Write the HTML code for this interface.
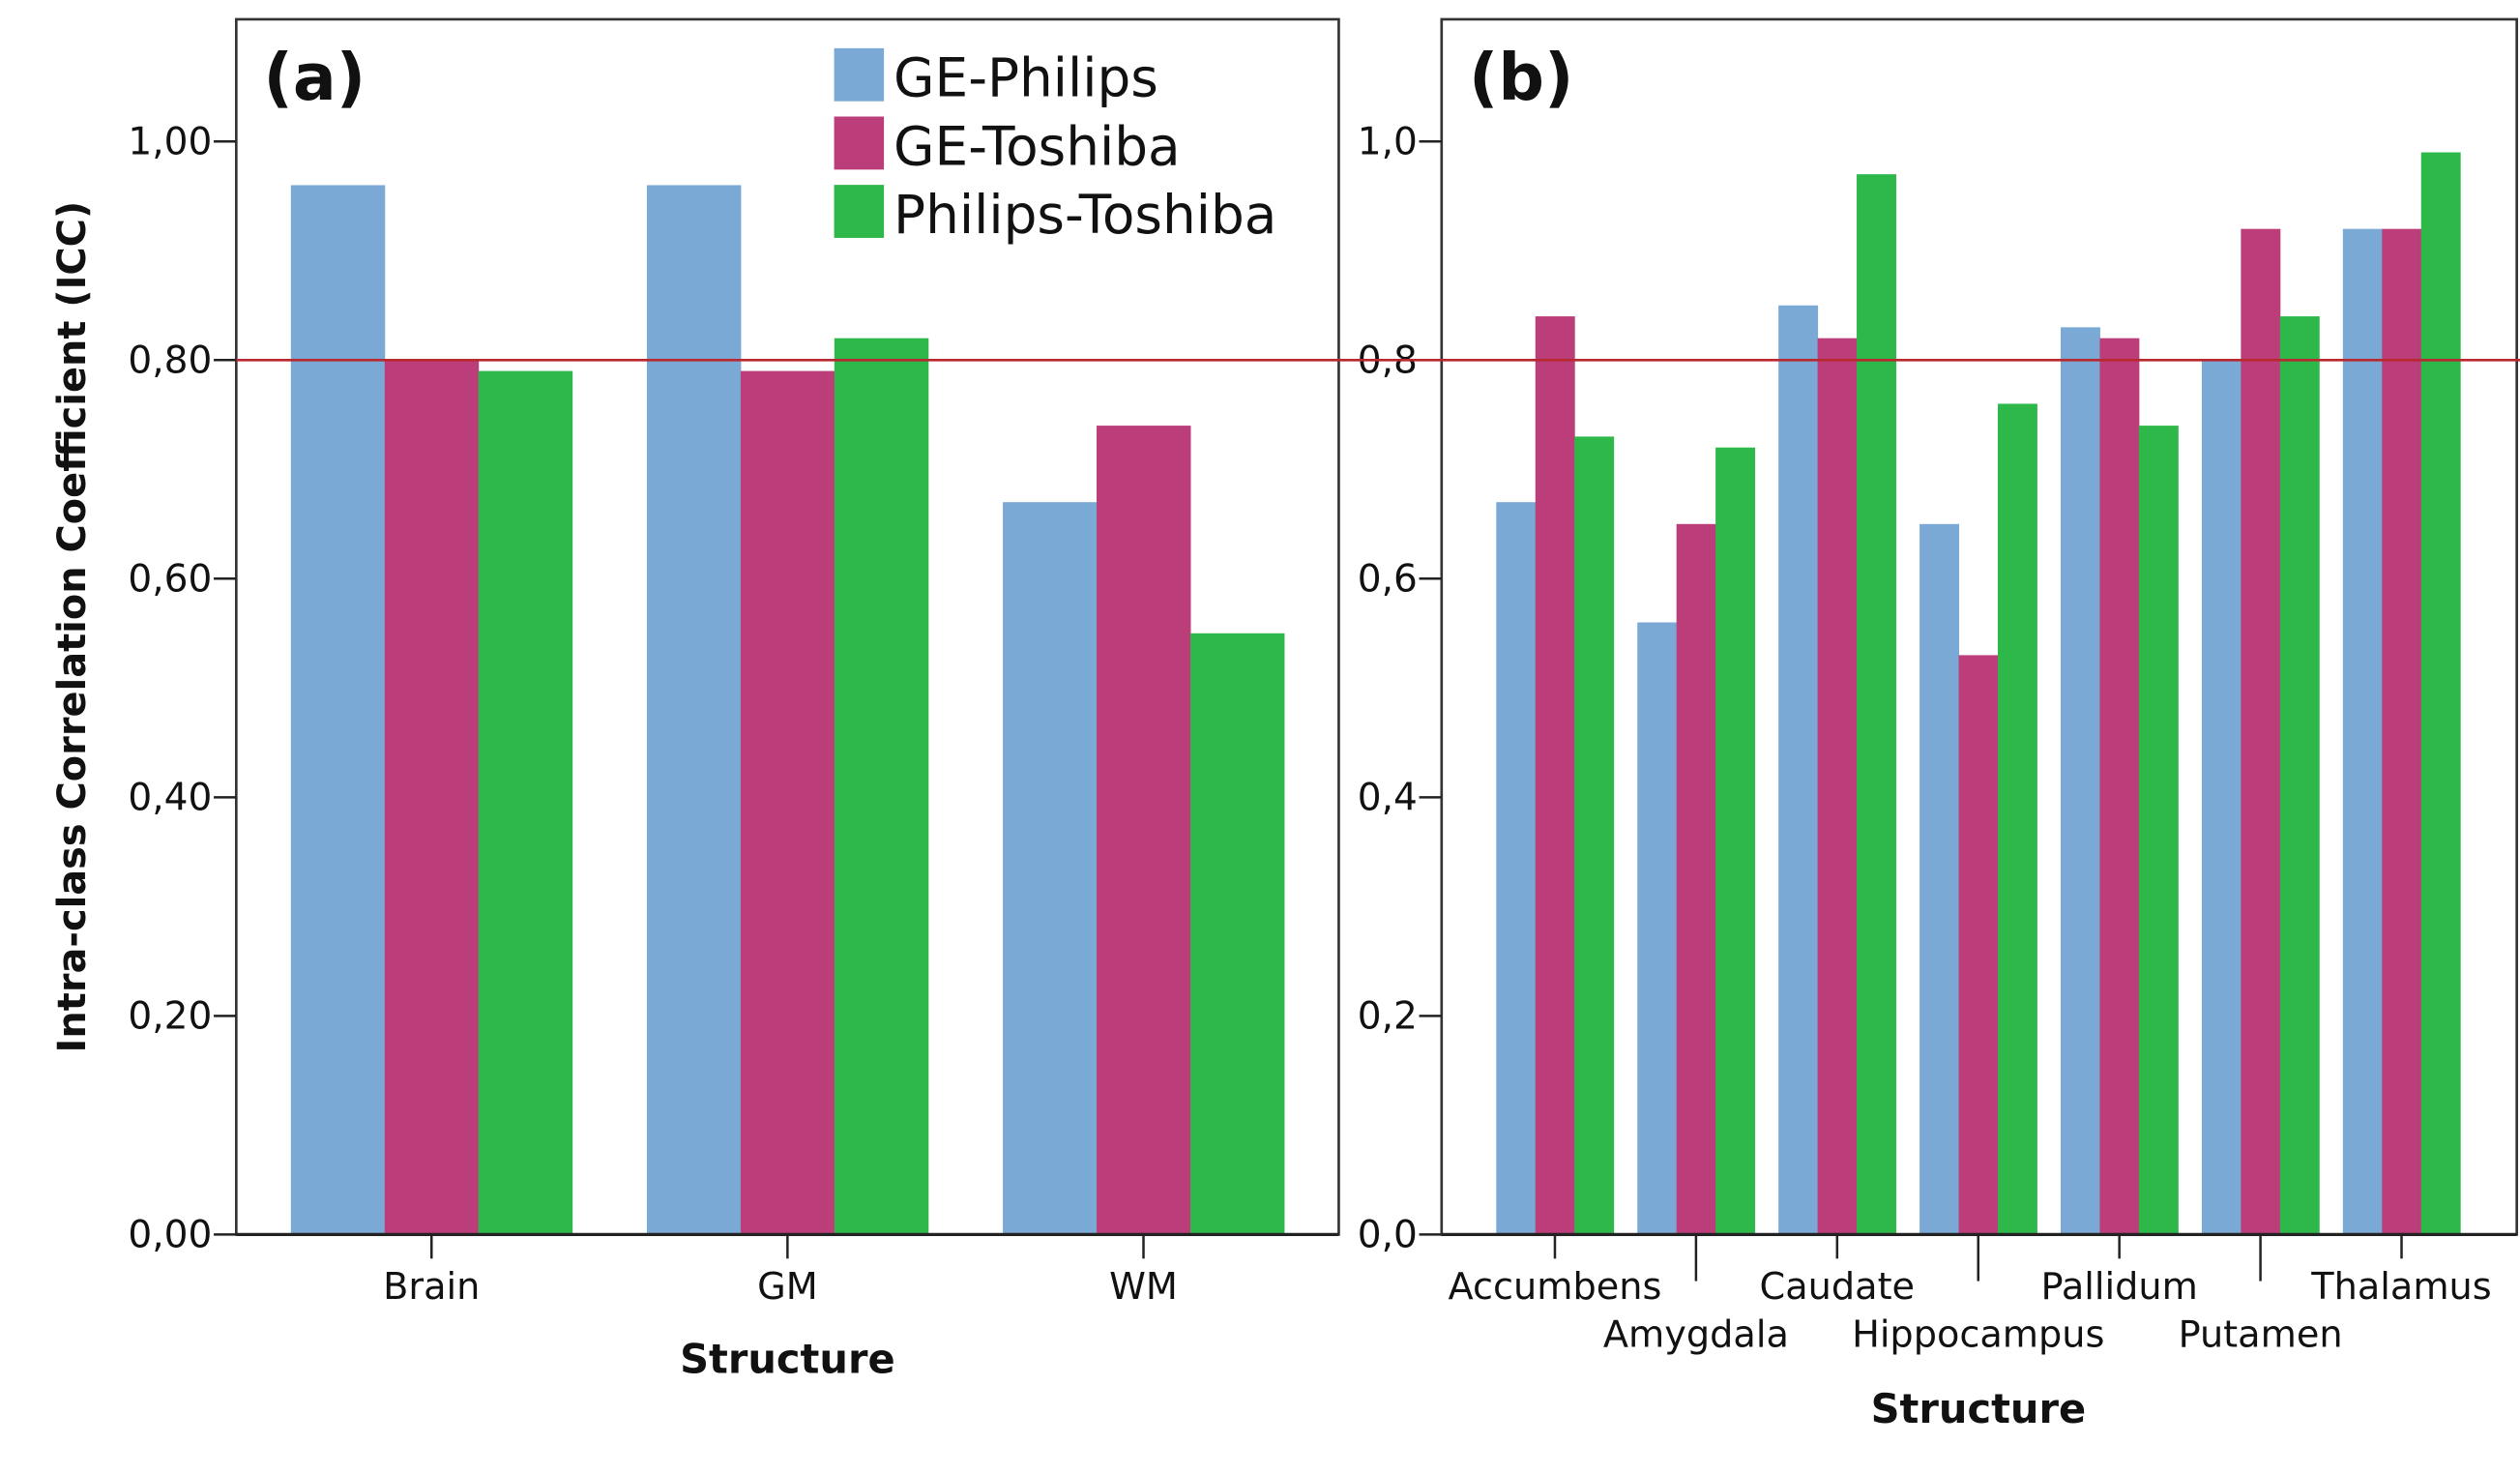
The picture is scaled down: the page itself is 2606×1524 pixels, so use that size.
<!DOCTYPE html>
<html><head><meta charset="utf-8">
<style>
html,body{margin:0;padding:0;background:#fff;}
svg{display:block;}
text{font-family:"DejaVu Sans","Liberation Sans",sans-serif;fill:#111;}
.b{font-weight:bold;}
</style></head>
<body>
<svg id="chart" width="2606" height="1524" viewBox="0 0 1568 917" preserveAspectRatio="none" xmlns="http://www.w3.org/2000/svg">
<g id="pa"></g>
<g id="pb"></g>
</svg>
<script>
const seriesNames = ["GE-Philips","GE-Toshiba","Philips-Toshiba"];
const colors = ["#7ba9d6","#bb3e7a","#2fb84a"];
const catsA = ["Brain","GM","WM"];
const gePhilipsA = [0.96,0.96,0.67];
const geToshibaA = [0.80,0.79,0.74];
const philipsToshibaA = [0.79,0.82,0.55];
const ticksA = ["0,00","0,20","0,40","0,60","0,80","1,00"];
const catsB = ["Accumbens","Amygdala","Caudate","Hippocampus","Pallidum","Putamen","Thalamus"];
const gePhilipsB = [0.67,0.56,0.85,0.65,0.83,0.80,0.92];
const geToshibaB = [0.84,0.65,0.82,0.53,0.82,0.92,0.92];
const philipsToshibaB = [0.73,0.72,0.97,0.76,0.74,0.84,0.99];
const ticksB = ["0,0","0,2","0,4","0,6","0,8","1,0"];
const tickVals = [0,0.2,0.4,0.6,0.8,1.0];
const threshold = 0.8;

const NS="http://www.w3.org/2000/svg";
function mk(parent,tag,attrs,txt){const e=document.createElementNS(NS,tag);for(const k in attrs)e.setAttribute(k,attrs[k]);if(txt!==undefined)e.textContent=txt;parent.appendChild(e);return e;}
const y0=768, yTop=12;
function yScale(v){return y0 - v*680;}

function panel(g,left,right,cats,series,ticks,groupW,firstC,step,stagger,labelTag){
  const fr=mk(g,'rect',{x:left,y:yTop,width:right-left,height:y0-yTop,fill:'none',stroke:'#333','stroke-width':1.6});
  
  
  const bw=groupW/3;
  cats.forEach((c,i)=>{
    const cx=firstC+i*step;
    series.forEach((s,j)=>{
      const v=s[i];
      const r=mk(g,'rect',{x:cx-groupW/2+j*bw,y:yScale(v),width:bw+0.3,height:y0-yScale(v),fill:colors[j]});
      
      
    });
    const odd=stagger && i%2===1;
    const tk=mk(g,'line',{x1:cx,x2:cx,y1:y0,y2:odd?797:783,stroke:'#222','stroke-width':1.5});
    
    
    const t=mk(g,'text',{x:cx,y:odd?838:808,'text-anchor':'middle','font-size':23},c);
    
    
  });
  mk(g,'line',{x1:left,x2:right,y1:y0,y2:y0,stroke:'#222','stroke-width':2});
  tickVals.forEach((v,k)=>{
    const y=yScale(v);
    const l=mk(g,'line',{x1:left-14,x2:left,y1:y,y2:y,stroke:'#222','stroke-width':1.5});
    
    
    const t=mk(g,'text',{x:left-15,y:y+8,'text-anchor':'end','font-size':23.5},ticks[k]);
    
    
  });
  const pl=mk(g,'text',{x:left+17,y:62,'font-size':40,'font-family':'Liberation Sans, sans-serif',class:'b'},labelTag);
  
  
}
const pa=document.getElementById('pa'), pb=document.getElementById('pb');
panel(pa,147,833,catsA,[gePhilipsA,geToshibaA,philipsToshibaA],ticksA,175,268.5,221.5,false,'(a)');
panel(pb,897,1566,catsB,[gePhilipsB,geToshibaB,philipsToshibaB],ticksB,73,967.5,87.8,true,'(b)');

const th=mk(document.getElementById('chart'),'line',{x1:147,x2:1568,y1:yScale(threshold),y2:yScale(threshold),stroke:'#b8282e','stroke-width':1.6});



const yt=mk(pa,'text',{x:0,y:0,'text-anchor':'middle','font-size':24,class:'b',transform:'translate(53,390) rotate(-90)'},'Intra-class Correlation Coefficient (ICC)');


const xa=mk(pa,'text',{x:490,y:854,'text-anchor':'middle','font-size':25,class:'b'},'Structure');


const xb=mk(pb,'text',{x:1231,y:885,'text-anchor':'middle','font-size':25,class:'b'},'Structure');



const lg=mk(pa,'g',{});


seriesNames.forEach((n,j)=>{
  const y=30+j*42.5;
  const sw=mk(lg,'rect',{x:519,y:y,width:31,height:33,fill:colors[j]});
  
  
  const t=mk(lg,'text',{x:556,y:y+30,'font-size':33},n);
  
  
});
</script>
</body></html>
